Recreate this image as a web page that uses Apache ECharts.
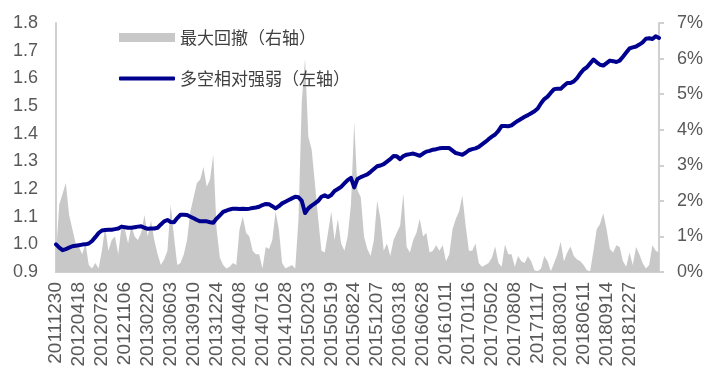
<!DOCTYPE html>
<html>
<head>
<meta charset="utf-8">
<script src="https://cdn.jsdelivr.net/npm/echarts@6/dist/echarts.min.js"></script>
<style>
html,body{margin:0;padding:0;background:#fff;}
#chart{width:717px;height:387px;}
</style>
</head>
<body>
<div id="chart"></div>
<script>
const dates = [
'20111230','20120116','20120203','20120217','20120302','20120316','20120330',
'20120418','20120502','20120516','20120530','20120613','20120627','20120711',
'20120726','20120809','20120823','20120906','20120920','20121010','20121023',
'20121106','20121120','20121204','20121218','20130104','20130118','20130201',
'20130220','20130306','20130320','20130403','20130419','20130506','20130520',
'20130603','20130618','20130702','20130716','20130730','20130813','20130827',
'20130910','20130925','20131014','20131028','20131111','20131125','20131209',
'20131224','20140108','20140122','20140212','20140226','20140312','20140326',
'20140408','20140422','20140508','20140522','20140606','20140620','20140704',
'20140716','20140730','20140813','20140827','20140910','20140924','20141015',
'20141028','20141111','20141125','20141209','20141223','20150107','20150121',
'20150203','20150217','20150310','20150324','20150408','20150422','20150506',
'20150519','20150602','20150616','20150701','20150715','20150729','20150812',
'20150824','20150908','20150922','20151013','20151027','20151110','20151124',
'20151207','20151221','20160105','20160119','20160202','20160223','20160308',
'20160318','20160401','20160418','20160503','20160517','20160531','20160615',
'20160628','20160712','20160726','20160809','20160823','20160906','20160921',
'20161011','20161025','20161108','20161122','20161206','20161220','20170104',
'20170116','20170203','20170217','20170303','20170317','20170331','20170418',
'20170502','20170516','20170531','20170614','20170628','20170712','20170726',
'20170808','20170822','20170905','20170919','20171010','20171024','20171107',
'20171117','20171201','20171215','20171229','20180115','20180129','20180212',
'20180301','20180315','20180329','20180416','20180502','20180516','20180530',
'20180611','20180625','20180709','20180723','20180806','20180820','20180903',
'20180914','20180929','20181019','20181102','20181116','20181130','20181214',
'20181227','20190114','20190128','20190219','20190305','20190319','20190402','20190418','20190506','20190520'
];

// tick labels shown on the x axis
const tickLabels = [
'20111230','20120418','20120726','20121106','20130220','20130603','20130910',
'20131224','20140408','20140716','20141028','20150203','20150519','20150824',
'20151207','20160318','20160628','20161011','20170116','20170502','20170808',
'20171117','20180301','20180611','20180914','20181227'
];

// 多空相对强弱（左轴）
const strength = [
1.000,0.988,0.979,0.983,0.988,0.993,0.995,0.997,0.999,1.000,
1.003,1.012,1.026,1.041,1.050,1.052,1.053,1.053,1.055,1.057,
1.064,1.062,1.060,1.060,1.062,1.064,1.065,1.060,1.056,1.057,
1.057,1.060,1.072,1.083,1.088,1.081,1.080,1.095,1.107,1.107,
1.106,1.100,1.094,1.088,1.083,1.083,1.083,1.080,1.078,1.093,
1.105,1.117,1.122,1.126,1.129,1.129,1.128,1.129,1.128,1.129,
1.131,1.133,1.136,1.142,1.146,1.145,1.138,1.130,1.138,1.148,
1.154,1.160,1.166,1.172,1.170,1.157,1.113,1.130,1.140,1.148,
1.157,1.172,1.177,1.171,1.178,1.193,1.200,1.208,1.220,1.232,
1.240,1.206,1.236,1.243,1.248,1.253,1.262,1.272,1.282,1.285,
1.290,1.299,1.308,1.319,1.318,1.308,1.319,1.324,1.326,1.328,
1.324,1.320,1.328,1.335,1.338,1.342,1.344,1.347,1.348,1.348,
1.348,1.339,1.330,1.327,1.324,1.331,1.340,1.344,1.347,1.352,
1.361,1.370,1.380,1.389,1.397,1.410,1.428,1.428,1.427,1.430,
1.439,1.447,1.454,1.461,1.467,1.474,1.481,1.491,1.510,1.525,
1.534,1.548,1.561,1.562,1.562,1.573,1.583,1.583,1.589,1.601,
1.618,1.632,1.640,1.654,1.668,1.658,1.649,1.646,1.655,1.664,
1.662,1.659,1.664,1.678,1.693,1.708,1.712,1.715,1.722,1.730,
1.743,1.745,1.742,1.752,1.746
];

// 最大回撤（右轴），单位 %
const drawdown = [
0.5,1.9,2.2,2.5,1.6,1.2,0.8,0.7,0.5,0.8,
0.2,0.1,0.25,0.1,0.6,1.25,0.6,0.9,1.0,0.5,
1.3,1.2,0.8,1.3,1.0,0.9,1.1,1.6,1.0,1.45,
0.9,0.5,0.2,0.35,0.6,1.9,1.0,0.2,0.25,0.5,
0.9,1.7,2.1,2.5,2.6,2.95,2.4,2.6,3.3,1.2,
0.4,0.2,0.1,0.15,0.25,0.2,1.2,1.55,1.1,1.0,
0.6,0.5,0.5,0.1,0.7,0.65,0.9,1.7,1.2,0.25,
0.1,0.15,0.2,0.1,1.5,4.8,6.0,3.8,3.45,2.5,
1.5,0.6,0.55,1.1,1.7,0.9,1.5,0.8,0.6,1.0,
1.9,4.2,2.3,2.1,1.0,0.65,0.45,0.9,2.0,1.5,
0.6,0.8,0.45,0.9,1.1,1.3,2.2,0.7,0.55,0.9,
1.1,1.5,1.0,1.1,0.55,0.6,0.75,0.6,0.75,0.3,
0.5,1.2,1.5,1.7,2.15,1.3,0.6,0.6,0.8,0.25,
0.15,0.2,0.25,0.4,0.72,0.25,0.15,0.77,0.5,0.5,
0.15,0.45,0.3,0.25,0.44,0.3,0.05,0.02,0.1,0.45,
0.3,0.02,0.25,0.5,0.85,0.3,0.55,0.72,0.45,0.35,
0.3,0.2,0.05,0.02,0.6,1.2,1.35,1.65,1.2,0.65,
0.55,0.75,0.7,0.3,0.15,0.55,0.2,0.7,0.5,0.25,
0.1,0.2,0.75,0.6,0.55
];

const seriesNames = ['最大回撤（右轴）', '多空相对强弱（左轴）'];

const numFont = 'Liberation Sans, Arial, sans-serif';
const cjkFont = 'Noto Sans CJK SC, sans-serif';
const labelColor = '#595959';
const axisColor = '#d0d0d0';
const areaColor = '#c8c8c8';
const lineColor = '#00008f';

const chart = echarts.init(document.getElementById('chart'), null, {renderer: 'canvas'});
chart.setOption({
  animation: false,
  backgroundColor: '#ffffff',
  grid: {left: 56, right: 58, top: 23, bottom: 115, containLabel: false},
  legend: [
    {
      data: [{name: seriesNames[0], icon: 'rect'}],
      left: 119, top: 29, padding: 0,
      itemWidth: 56, itemHeight: 9,
      textStyle: {fontFamily: cjkFont, fontSize: 17, color: '#404040'}
    },
    {
      data: [{name: seriesNames[1], icon: 'roundRect', itemStyle: {color: lineColor}}],
      left: 119, top: 70, padding: 0,
      itemWidth: 56, itemHeight: 4,
      textStyle: {fontFamily: cjkFont, fontSize: 17, color: '#404040'}
    }
  ],
  xAxis: {
    type: 'category',
    data: dates,
    boundaryGap: false,
    axisLine: {show: true, lineStyle: {color: axisColor, width: 2}},
    axisTick: {show: false},
    axisLabel: {
      interval: (idx, val) => tickLabels.indexOf(val) >= 0,
      rotate: 90, margin: 10,
      fontFamily: numFont, fontSize: 19, color: labelColor
    },
    splitLine: {show: false}
  },
  yAxis: [
    {
      type: 'value', min: 0.9, max: 1.8, interval: 0.1, position: 'left',
      axisLine: {show: true, lineStyle: {color: axisColor, width: 2}},
      axisTick: {show: false},
      axisLabel: {
        margin: 18, fontFamily: numFont, fontSize: 18, color: labelColor,
        formatter: v => v.toFixed(1)
      },
      splitLine: {show: false}
    },
    {
      type: 'value', min: 0, max: 7, interval: 1, position: 'right',
      axisLine: {show: true, lineStyle: {color: axisColor, width: 2}},
      axisTick: {show: true, length: 5, inside: false, lineStyle: {color: axisColor, width: 2}},
      axisLabel: {
        margin: 18, fontFamily: numFont, fontSize: 18, color: labelColor,
        formatter: '{value}%'
      },
      splitLine: {show: false}
    }
  ],
  series: [
    {
      name: seriesNames[0],
      type: 'line',
      yAxisIndex: 1,
      data: drawdown,
      symbol: 'none',
      showSymbol: false,
      lineStyle: {width: 0, color: areaColor},
      itemStyle: {color: areaColor},
      areaStyle: {color: areaColor, opacity: 1},
      z: 1
    },
    {
      name: seriesNames[1],
      type: 'line',
      yAxisIndex: 0,
      data: strength,
      symbol: 'none',
      showSymbol: false,
      lineStyle: {width: 4, color: lineColor, cap: 'round', join: 'round'},
      itemStyle: {color: lineColor},
      z: 3
    }
  ]
});
</script>
</body>
</html>
